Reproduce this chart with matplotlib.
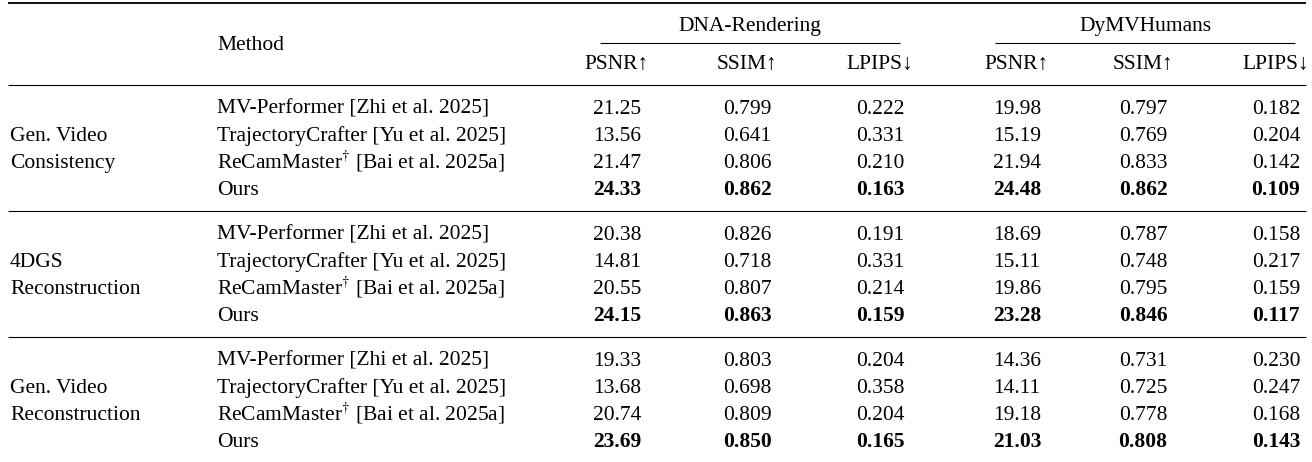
import matplotlib
matplotlib.use("Agg")
import matplotlib.pyplot as plt

plt.rcParams['font.family'] = ['Liberation Serif', 'DejaVu Serif']
plt.rcParams['mathtext.fontset'] = 'stix'

groups = [["Gen. Video", "Consistency"],
          ["4DGS", "Reconstruction"],
          ["Gen. Video", "Reconstruction"]]
methods = ["MV-Performer [Zhi et al. 2025]",
           "TrajectoryCrafter [Yu et al. 2025]",
           r"ReCamMaster$^{\dagger}$ [Bai et al. 2025a]",
           "Ours"]
datasets = ["DNA-Rendering", "DyMVHumans"]
metrics = ["PSNR\u2191", "SSIM\u2191", "LPIPS\u2193"]

dna_psnr = [21.25, 13.56, 21.47, 24.33, 20.38, 14.81, 20.55, 24.15, 19.33, 13.68, 20.74, 23.69]
dna_ssim = [0.799, 0.641, 0.806, 0.862, 0.826, 0.718, 0.807, 0.863, 0.803, 0.698, 0.809, 0.850]
dna_lpips = [0.222, 0.331, 0.210, 0.163, 0.191, 0.331, 0.214, 0.159, 0.204, 0.358, 0.204, 0.165]
dymv_psnr = [19.98, 15.19, 21.94, 24.48, 18.69, 15.11, 19.86, 23.28, 14.36, 14.11, 19.18, 21.03]
dymv_ssim = [0.797, 0.769, 0.833, 0.862, 0.787, 0.748, 0.795, 0.846, 0.731, 0.725, 0.778, 0.808]
dymv_lpips = [0.182, 0.204, 0.142, 0.109, 0.158, 0.217, 0.159, 0.117, 0.230, 0.247, 0.168, 0.143]

columns = [(dna_psnr, "{:.2f}"), (dna_ssim, "{:.3f}"), (dna_lpips, "{:.3f}"),
           (dymv_psnr, "{:.2f}"), (dymv_ssim, "{:.3f}"), (dymv_lpips, "{:.3f}")]

# layout in pixels
W, H = 1312, 462
fs = 15.5
col_x = [617, 747, 880, 1017, 1143, 1276]
group_x = 10
method_x = 217
rule_x0, rule_x1 = 8, 1306
cmid = [(600, 900), (995, 1295)]
block_y0 = [107, 233, 359]
pitch = 27.3
base_off = 6.5  # baseline below visual centre

fig = plt.figure(figsize=(W / 100, H / 100), dpi=100)
ax = fig.add_axes([0, 0, 1, 1])
ax.set_xlim(0, W)
ax.set_ylim(H, 0)
ax.axis("off")


def put(x, y, s, ha="center", bold=False):
    ax.text(x, y + base_off, s, ha=ha, va="baseline", fontsize=fs,
            fontweight="bold" if bold else "normal", color="black")


# rules
ax.hlines(3, rule_x0, rule_x1, color="black", lw=1.3)
ax.hlines(85, rule_x0, rule_x1, color="black", lw=0.8)
for a, b in cmid:
    ax.hlines(43, a, b, color="black", lw=0.8)
for y in [211, 337]:
    ax.hlines(y, rule_x0, rule_x1, color="black", lw=0.8)

# header
put(method_x, 44, "Method", ha="left")
put((cmid[0][0] + cmid[0][1]) / 2, 25, datasets[0])
put((cmid[1][0] + cmid[1][1]) / 2, 25, datasets[1])
for i, x in enumerate(col_x):
    put(x, 63, metrics[i % 3])

# body
for g, y0 in enumerate(block_y0):
    rows_y = [y0 + k * pitch for k in range(4)]
    put(group_x, rows_y[1], groups[g][0], ha="left")
    put(group_x, rows_y[2], groups[g][1], ha="left")
    for k, y in enumerate(rows_y):
        idx = g * 4 + k
        bold = methods[k] == "Ours"
        put(method_x, y, methods[k], ha="left")
        for (vals, fmt), x in zip(columns, col_x):
            put(x, y, fmt.format(vals[idx]), bold=bold)

fig.savefig("out.png", dpi=100, facecolor="white")
